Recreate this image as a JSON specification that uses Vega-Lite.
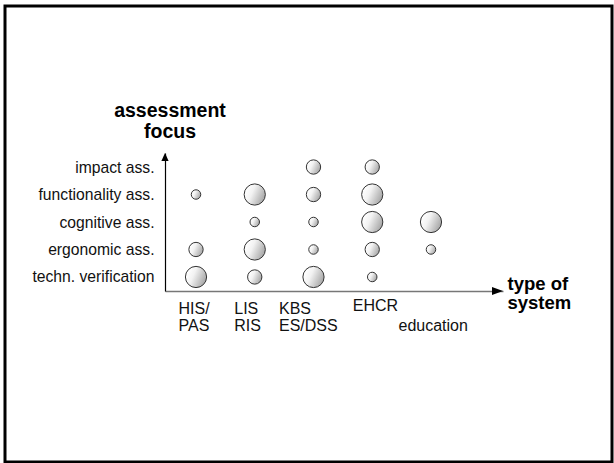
{
  "$schema": "https://vega.github.io/schema/vega-lite/v6.json",
  "width": 607,
  "height": 456,
  "autosize": {"type": "none"},
  "padding": {"left": 5, "top": 6, "right": 2, "bottom": 1},
  "background": "white",
  "config": {
    "view": {"stroke": "#000000", "strokeWidth": 3},
    "font": "Liberation Sans"
  },
  "layer": [
    {
      "data": {
        "values": [
          {"system": "HIS/|PAS", "focus": "functionality ass.", "level": "small"},
          {"system": "HIS/|PAS", "focus": "ergonomic ass.", "level": "medium"},
          {"system": "HIS/|PAS", "focus": "techn. verification", "level": "large"},
          {"system": "LIS|RIS", "focus": "functionality ass.", "level": "large"},
          {"system": "LIS|RIS", "focus": "cognitive ass.", "level": "small"},
          {"system": "LIS|RIS", "focus": "ergonomic ass.", "level": "large"},
          {"system": "LIS|RIS", "focus": "techn. verification", "level": "medium"},
          {"system": "KBS|ES/DSS", "focus": "impact ass.", "level": "medium"},
          {"system": "KBS|ES/DSS", "focus": "functionality ass.", "level": "medium"},
          {"system": "KBS|ES/DSS", "focus": "cognitive ass.", "level": "small"},
          {"system": "KBS|ES/DSS", "focus": "ergonomic ass.", "level": "small"},
          {"system": "KBS|ES/DSS", "focus": "techn. verification", "level": "large"},
          {"system": "EHCR", "focus": "impact ass.", "level": "medium"},
          {"system": "EHCR", "focus": "functionality ass.", "level": "large"},
          {"system": "EHCR", "focus": "cognitive ass.", "level": "large"},
          {"system": "EHCR", "focus": "ergonomic ass.", "level": "medium"},
          {"system": "EHCR", "focus": "techn. verification", "level": "small"},
          {"system": "|education", "focus": "cognitive ass.", "level": "large"},
          {"system": "|education", "focus": "ergonomic ass.", "level": "small"}
        ]
      },
      "mark": {
        "type": "point",
        "shape": "circle",
        "filled": true,
        "opacity": 1,
        "fill": {
          "gradient": "linear",
          "x1": 0.1, "y1": 0.2, "x2": 1, "y2": 0.6,
          "stops": [
            {"offset": 0, "color": "#ffffff"},
            {"offset": 0.35, "color": "#f2f2f2"},
            {"offset": 1, "color": "#a6a6a6"}
          ]
        },
        "stroke": "#333333",
        "strokeWidth": 1
      },
      "encoding": {
        "x": {
          "field": "system",
          "type": "nominal",
          "sort": null,
          "scale": {
            "type": "point",
            "domain": ["HIS/|PAS", "LIS|RIS", "KBS|ES/DSS", "EHCR", "|education"],
            "range": [160, 498],
            "padding": 0.877,
            "align": 0.301
          },
          "axis": {
            "orient": "bottom",
            "offset": -171,
            "domainColor": "#777777",
            "domainWidth": 1.5,
            "ticks": false,
            "tickSize": 0,
            "labelAngle": 0,
            "labelPadding": {
              "condition": {"test": "datum.value === 'EHCR'", "value": 6},
              "value": 9
            },
            "labelBaseline": "top",
            "labelAlign": "left",
            "labelOffset": {
              "condition": [
                {"test": "datum.value === 'HIS/|PAS'", "value": -18},
                {"test": "datum.value === 'LIS|RIS'", "value": -21},
                {"test": "datum.value === 'KBS|ES/DSS'", "value": -35},
                {"test": "datum.value === 'EHCR'", "value": -20}
              ],
              "value": -33
            },
            "labelFontSize": 16,
            "labelLineHeight": 17,
            "labelColor": "#111111",
            "labelOverlap": false,
            "labelFlush": false,
            "labelExpr": "split(datum.label, '|')",
            "title": ["type of", "system"],
            "titleFontSize": 18.5,
            "titleFontWeight": "bold",
            "titleColor": "#000000",
            "titleAngle": 0,
            "titleAlign": "left",
            "titleBaseline": "alphabetic",
            "titleX": 502,
            "titleY": -2,
            "titleLineHeight": 19
          }
        },
        "y": {
          "field": "focus",
          "type": "nominal",
          "scale": {
            "type": "point",
            "domain": ["techn. verification", "ergonomic ass.", "cognitive ass.", "functionality ass.", "impact ass."],
            "range": [285, 147],
            "padding": 0.51
          },
          "axis": {
            "orient": "left",
            "offset": -160,
            "domainColor": "#000000",
            "domainWidth": 1.2,
            "ticks": false,
            "tickSize": 0,
            "labelPadding": 11,
            "labelFontSize": 15.7,
            "labelColor": "#111111",
            "labelAlign": "right",
            "labelBaseline": "middle",
            "labelOverlap": false,
            "title": ["assessment", "focus"],
            "titleFontSize": 19.5,
            "titleFontWeight": "bold",
            "titleColor": "#000000",
            "titleAngle": 0,
            "titleAlign": "center",
            "titleBaseline": "alphabetic",
            "titleX": 4.5,
            "titleY": 110,
            "titleLineHeight": 21
          }
        },
        "size": {
          "field": "level",
          "type": "ordinal",
          "scale": {"type": "ordinal", "domain": ["small", "medium", "large"], "range": [90, 205, 450]},
          "legend": null
        }
      }
    },
    {
      "data": {"values": [{"arrow": "x"}]},
      "mark": {
        "type": "point",
        "shape": "M0,0L-1,-0.36L-1,0.36Z",
        "filled": true,
        "opacity": 1,
        "fill": "#000000",
        "strokeWidth": 0,
        "size": 484,
        "x": {"expr": "range('x')[1]"},
        "y": {"expr": "range('y')[0]"}
      },
      "encoding": {}
    },
    {
      "data": {"values": [{"arrow": "y"}]},
      "mark": {
        "type": "point",
        "shape": "M0,0L-0.45,1L0.45,1Z",
        "filled": true,
        "opacity": 1,
        "fill": "#000000",
        "strokeWidth": 0,
        "size": 256,
        "x": {"expr": "range('x')[0]"},
        "y": {"expr": "range('y')[1]"}
      },
      "encoding": {}
    }
  ]
}
